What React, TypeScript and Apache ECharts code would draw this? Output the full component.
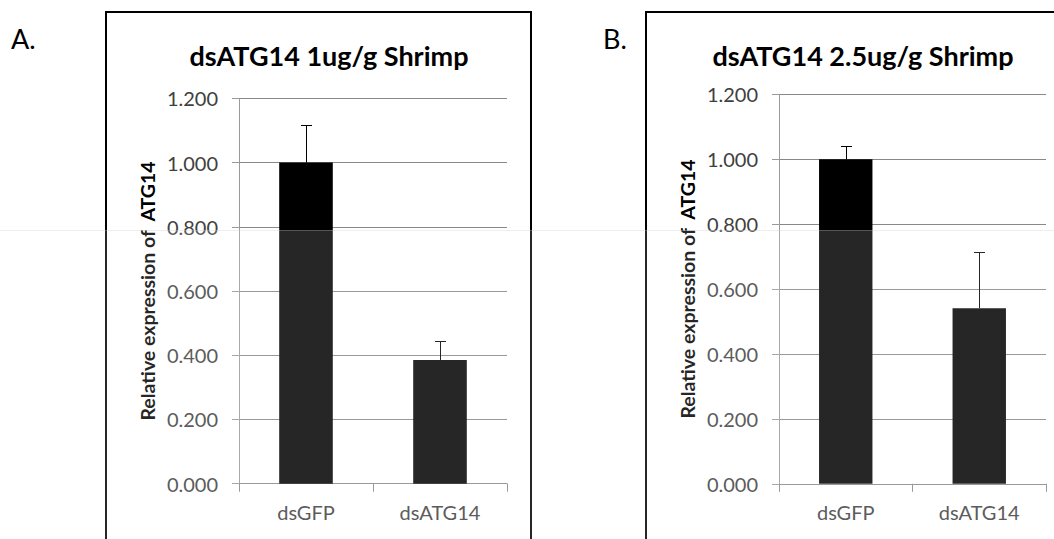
import React, { useEffect, useRef } from 'react';
import * as echarts from 'echarts';

const categories = ['dsGFP', 'dsATG14'];
const valuesA = [1.0, 0.385];
const errorsA = [0.117, 0.058];
const valuesB = [1.0, 0.541];
const errorsB = [0.04, 0.173];
const yMin = 0;
const yMax = 1.2;
const yStep = 0.2;
const titleA = 'dsATG14 1ug/g Shrimp';
const titleB = 'dsATG14 2.5ug/g Shrimp';
const yName = 'Relative expression of  ATG14';
const panelLabels = ['A.', 'B.'];

const FONT = 'Lato';

function errorRender(params: any, api: any) {
  const x = api.value(0);
  const v = api.value(1);
  const e = api.value(2);
  const p0 = api.coord([x, v]);
  const p1 = api.coord([x, v + e]);
  const cx = Math.round(p0[0]) + 0.5;
  const ty = Math.round(p1[1]) + 0.5;
  return {
    type: 'group',
    children: [
      { type: 'line', shape: { x1: cx, y1: p0[1], x2: cx, y2: ty }, style: { stroke: '#000', lineWidth: 1 } },
      { type: 'line', shape: { x1: cx - 5.5, y1: ty, x2: cx + 5.5, y2: ty }, style: { stroke: '#000', lineWidth: 1 } },
    ],
  };
}

export default function App() {
  const ref = useRef<HTMLDivElement>(null);
  useEffect(() => {
    if (!ref.current) return;
    const chart = echarts.init(ref.current, null, { renderer: 'svg' });
    const yAxisBase = (idx: number) => ({
      type: 'value',
      gridIndex: idx,
      min: yMin,
      max: yMax,
      interval: yStep,
      name: yName,
      nameLocation: 'middle',
      nameGap: 82,
      nameTextStyle: { fontFamily: FONT, fontSize: 19.5, fontWeight: 'bold', color: '#000' },
      axisLine: { show: true, lineStyle: { color: '#9a9a9a', width: 1 } },
      axisTick: { show: true, length: 7, lineStyle: { color: '#9a9a9a' } },
      axisLabel: {
        fontFamily: FONT,
        fontSize: 20,
        color: '#404040',
        margin: 21,
        formatter: (v: number) => v.toFixed(3),
      },
      splitLine: { show: true, lineStyle: { color: '#888', width: 1 } },
    });
    const xAxisBase = (idx: number) => ({
      type: 'category',
      gridIndex: idx,
      data: categories,
      axisLine: { show: true, lineStyle: { color: '#888', width: 1 } },
      axisTick: { show: true, length: 8, lineStyle: { color: '#888' } },
      axisLabel: { fontFamily: FONT, fontSize: 20, color: '#404040', margin: 18 },
      splitLine: { show: false },
    });
    const option: any = {
      animation: false,
      backgroundColor: '#fff',
      title: [
        { text: titleA, left: 324, top: 37, textAlign: 'center', textStyle: { fontFamily: FONT, fontSize: 27, fontWeight: 'bold', color: '#000' } },
        { text: titleB, left: 858, top: 37, textAlign: 'center', textStyle: { fontFamily: FONT, fontSize: 27, fontWeight: 'bold', color: '#000' } },
      ],
      grid: [
        { left: 239, top: 98.3, width: 268, height: 385.4 },
        { left: 779, top: 94.3, width: 267, height: 389.5 },
      ],
      xAxis: [xAxisBase(0), xAxisBase(1)],
      yAxis: [yAxisBase(0), yAxisBase(1)],
      series: [
        { type: 'bar', xAxisIndex: 0, yAxisIndex: 0, data: valuesA, barWidth: '40%', itemStyle: { color: '#000' } },
        { type: 'bar', xAxisIndex: 1, yAxisIndex: 1, data: valuesB, barWidth: '40%', itemStyle: { color: '#000' } },
        {
          type: 'custom', xAxisIndex: 0, yAxisIndex: 0, z: 5,
          data: categories.map((_, i) => [i, valuesA[i], errorsA[i]]),
          encode: { x: 0, y: 1 },
          renderItem: errorRender,
        },
        {
          type: 'custom', xAxisIndex: 1, yAxisIndex: 1, z: 5,
          data: categories.map((_, i) => [i, valuesB[i], errorsB[i]]),
          encode: { x: 0, y: 1 },
          renderItem: errorRender,
        },
      ],
      graphic: [
        { type: 'rect', z: 50, silent: true, shape: { x: 106, y: 12, width: 425, height: 600 }, style: { fill: 'none', stroke: '#000', lineWidth: 2 } },
        { type: 'rect', z: 50, silent: true, shape: { x: 646, y: 12, width: 500, height: 600 }, style: { fill: 'none', stroke: '#000', lineWidth: 2 } },
        { type: 'text', z: 50, x: 11, y: 38, style: { text: panelLabels[0], fontFamily: FONT, fontSize: 27, fill: '#000', textVerticalAlign: 'middle' } },
        { type: 'text', z: 50, x: 603, y: 38, style: { text: panelLabels[1], fontFamily: FONT, fontSize: 27, fill: '#000', textVerticalAlign: 'middle' } },
        { type: 'rect', z: 100, silent: true, shape: { x: 0, y: 230, width: 1054, height: 309 }, style: { fill: 'rgba(255,255,255,0.15)' } },
        { type: 'line', z: 101, silent: true, shape: { x1: 0, y1: 230.5, x2: 1054, y2: 230.5 }, style: { stroke: 'rgba(200,200,200,0.3)', lineWidth: 1 } },
      ],
    };
    chart.setOption(option);
    return () => chart.dispose();
  }, []);
  return <div ref={ref} style={{ position: 'absolute', left: 0, top: 0, width: 1054, height: 539 }} />;
}
